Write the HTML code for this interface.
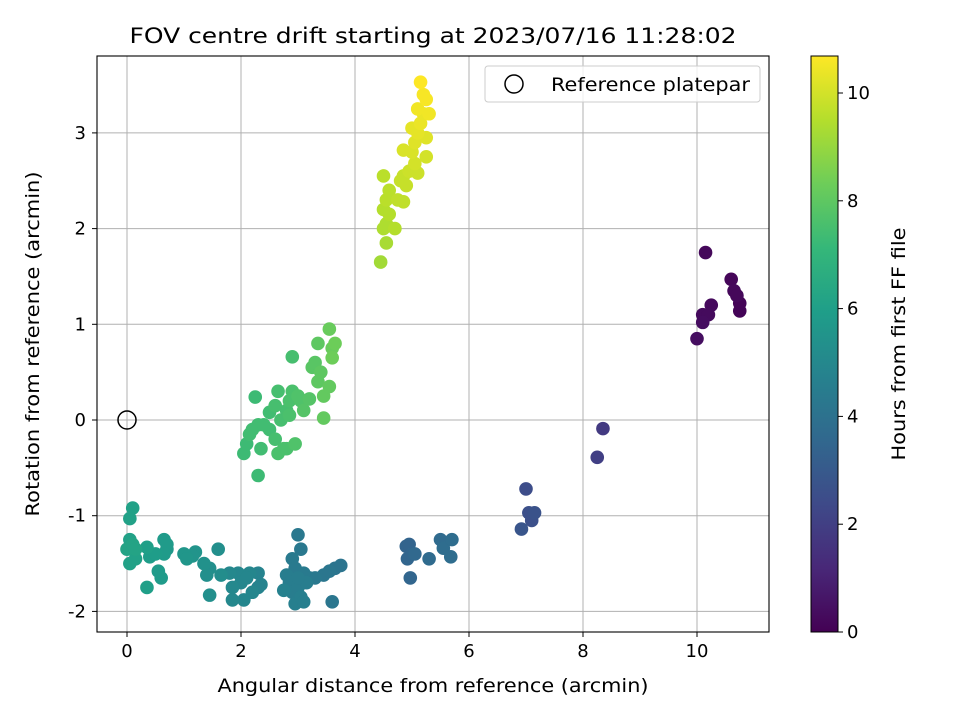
<!DOCTYPE html>
<html><head><meta charset="utf-8"><style>
html,body{margin:0;padding:0;background:#fff;}
svg{display:block;font-family:"DejaVu Sans","Liberation Sans",sans-serif;}
</style></head><body>
<svg id="chart" width="960" height="720" viewBox="0 0 960 720">
<rect width="960" height="720" fill="#fff"/>
<text x="433" y="43" font-size="21" text-anchor="middle" textLength="607" lengthAdjust="spacingAndGlyphs">FOV centre drift starting at 2023/07/16 11:28:02</text>
<g id="grid"></g>
<g id="points"></g>
<circle cx="127" cy="420" r="9" fill="none" stroke="#000" stroke-width="1.5"/>
<rect x="97" y="56" width="672" height="576" fill="none" stroke="#000" stroke-width="1.1"/>
<g id="ticks" font-size="18"></g>
<text x="433" y="692" font-size="19" text-anchor="middle" textLength="431" lengthAdjust="spacingAndGlyphs">Angular distance from reference (arcmin)</text>
<text transform="translate(39,344) rotate(-90)" font-size="19" text-anchor="middle" textLength="345" lengthAdjust="spacingAndGlyphs">Rotation from reference (arcmin)</text>
<g>
<rect x="485" y="66" width="275" height="36" rx="3" fill="#fff" fill-opacity="0.8" stroke="#ccc"/>
<circle cx="514" cy="84" r="9" fill="none" stroke="#000" stroke-width="1.5"/>
<text x="551" y="91" font-size="19" textLength="199" lengthAdjust="spacingAndGlyphs">Reference platepar</text>
</g>
<defs><linearGradient id="vir" x1="0" y1="1" x2="0" y2="0"></linearGradient></defs>
<rect id="cbar" x="811" y="56" width="27" height="576" fill="url(#vir)" stroke="#000" stroke-width="1"/>
<g id="cticks" font-size="18"></g>
<text transform="translate(905,344) rotate(-90)" font-size="19" text-anchor="middle" textLength="233" lengthAdjust="spacingAndGlyphs">Hours from first FF file</text>
</svg>
<script>
const xTicks=[0,2,4,6,8,10];
const yTicks=[-2,-1,0,1,2,3];
const cTicks=[0,2,4,6,8,10];
const xs=[10.0,10.1,10.1,10.15,10.2,10.25,10.6,10.65,10.7,10.75,10.75,8.35,8.25,7.0,7.05,7.1,7.15,6.92,
4.9,4.95,4.92,5.0,5.05,4.97,5.3,5.5,5.55,5.7,5.68,
2.9,2.95,3.0,3.05,2.8,2.85,2.9,2.95,3.0,3.05,3.1,3.15,3.1,3.2,3.3,3.45,3.55,3.65,3.75,3.6,2.75,3.0,
1.8,1.85,1.85,1.95,2.0,2.05,2.15,2.2,2.3,2.35,2.3,2.1,1.6,1.65,1.45,1.4,1.45,1.35,1.2,1.15,1.0,1.05,
0.1,0.05,0.05,0.0,0.1,0.15,0.05,0.15,0.35,0.4,0.35,0.5,0.55,0.6,0.65,0.7,0.65,0.7,
2.3,2.05,2.1,2.15,2.2,2.3,2.35,2.25,2.5,2.6,2.65,2.7,2.75,2.65,2.8,2.85,2.9,2.95,2.9,3.0,3.05,3.1,3.2,3.25,3.3,3.35,3.4,3.35,3.45,3.45,3.55,3.6,3.6,3.65,3.55,2.8,2.5,2.6,2.85,2.4,
4.45,4.55,4.5,4.55,4.7,4.5,4.6,4.55,4.6,4.75,4.85,4.5,4.9,4.8,4.85,5.1,4.95,5.05,5.25,5.0,4.85,5.05,5.25,5.1,5.0,5.15,5.2,5.3,5.1,5.25,5.2,5.15];
const ys=[0.85,1.1,1.02,1.75,1.1,1.2,1.47,1.35,1.3,1.22,1.14,-0.09,-0.39,-0.72,-0.97,-1.05,-0.97,-1.14,
-1.32,-1.3,-1.45,-1.4,-1.4,-1.65,-1.45,-1.25,-1.34,-1.25,-1.43,
-1.45,-1.55,-1.2,-1.35,-1.62,-1.7,-1.8,-1.92,-1.75,-1.85,-1.6,-1.7,-1.9,-1.65,-1.65,-1.62,-1.58,-1.55,-1.52,-1.9,-1.78,-1.65,
-1.6,-1.75,-1.88,-1.6,-1.7,-1.88,-1.6,-1.8,-1.6,-1.72,-1.75,-1.65,-1.35,-1.62,-1.55,-1.62,-1.83,-1.5,-1.38,-1.42,-1.4,-1.45,
-0.92,-1.03,-1.25,-1.35,-1.3,-1.35,-1.5,-1.45,-1.33,-1.43,-1.75,-1.4,-1.58,-1.65,-1.25,-1.3,-1.4,-1.35,
-0.58,-0.35,-0.25,-0.15,-0.1,-0.05,-0.3,0.24,0.08,0.15,0.3,0.0,-0.3,-0.35,0.1,0.2,0.3,-0.25,0.66,0.25,0.2,0.1,0.22,0.55,0.6,0.4,0.5,0.8,0.25,0.02,0.95,0.75,0.65,0.8,0.35,-0.3,-0.1,-0.2,0.05,-0.05,
1.65,1.85,2.0,2.05,2.0,2.2,2.15,2.3,2.4,2.3,2.28,2.55,2.45,2.5,2.55,2.58,2.6,2.68,2.75,2.8,2.82,2.9,2.95,3.0,3.05,3.1,3.2,3.2,3.25,3.35,3.4,3.53];
const hours=[0.4,0.3,0.35,0.2,0.3,0.25,0.15,0.2,0.2,0.1,0.1,1.8,2.0,2.5,2.6,2.6,2.7,2.8,
3.4,3.4,3.5,3.5,3.6,3.5,3.7,3.7,3.8,3.8,3.8,
4.4,4.4,4.3,4.3,4.5,4.5,4.5,4.6,4.5,4.6,4.4,4.5,4.6,4.3,4.3,4.2,4.2,4.1,4.1,4.2,4.7,4.5,
5.0,5.0,5.0,4.9,4.9,4.9,4.9,4.9,4.8,4.8,4.8,4.9,5.3,5.2,5.3,5.3,5.3,5.4,5.5,5.5,5.6,5.6,
6.1,6.1,6.1,6.2,6.2,6.2,6.1,6.1,6.0,5.9,6.0,5.9,5.8,5.8,5.8,5.8,5.8,5.7,
7.3,7.3,7.3,7.4,7.4,7.4,7.4,7.3,7.4,7.5,7.5,7.5,7.6,7.6,7.5,7.6,7.6,7.7,7.5,7.7,7.7,7.8,7.8,7.9,7.9,8.0,8.0,8.0,8.1,8.1,8.2,8.2,8.3,8.3,8.1,7.6,7.4,7.5,7.6,7.4,
9.2,9.3,9.4,9.4,9.5,9.5,9.5,9.6,9.6,9.7,9.7,9.6,9.8,9.8,9.8,9.9,9.9,10.0,10.0,10.1,10.1,10.2,10.2,10.3,10.3,10.4,10.4,10.5,10.5,10.6,10.6,10.7];
const NS="http://www.w3.org/2000/svg";
const X=v=>127+v*57, Y=v=>420-v*95.7, C=v=>632-v*53.9;
const VIR=[[68,1,84],[72,40,120],[62,74,137],[49,104,142],[38,130,142],[31,158,137],[53,183,121],[109,205,89],[180,222,44],[253,231,37]];
function vir(t){t=Math.max(0,Math.min(1,t))*9;const i=Math.min(8,Math.floor(t)),f=t-i,a=VIR[i],b=VIR[i+1];
return 'rgb('+a.map((c,k)=>Math.round(c+(b[k]-c)*f)).join(',')+')';}
const HMAX=10.69;
function mk(tag,attrs,parent){const e=document.createElementNS(NS,tag);for(const k in attrs)e.setAttribute(k,attrs[k]);parent.appendChild(e);return e;}
const grid=document.getElementById('grid'),ticks=document.getElementById('ticks');
xTicks.forEach(v=>{
 const l=mk('line',{x1:X(v),x2:X(v),y1:56,y2:632,stroke:'#b0b0b0','stroke-width':1},grid);
 
 
 mk('line',{x1:X(v),x2:X(v),y1:632,y2:637,stroke:'#000'},ticks);
 const t=mk('text',{x:X(v),y:657,'text-anchor':'middle'},ticks);t.textContent=v;
 
 
});
yTicks.forEach(v=>{
 const l=mk('line',{x1:97,x2:769,y1:Y(v),y2:Y(v),stroke:'#b0b0b0','stroke-width':1},grid);
 
 
 mk('line',{x1:92,x2:97,y1:Y(v),y2:Y(v),stroke:'#000'},ticks);
 const t=mk('text',{x:86,y:Y(v)+6,'text-anchor':'end'},ticks);t.textContent=v;
 
 
});
const pts=document.getElementById('points');
const order=hours.map((h,i)=>i).sort((a,b)=>hours[a]-hours[b]);
order.forEach(i=>{
 const c=mk('circle',{cx:X(xs[i]),cy:Y(ys[i]),r:6.8,fill:vir(hours[i]/HMAX)},pts);
 
 
});
const g=document.getElementById('vir');
VIR.forEach((c,i)=>mk('stop',{offset:(i/9),'stop-color':'rgb('+c.join(',')+')'},g));
const ct=document.getElementById('cticks');
cTicks.forEach(v=>{
 mk('line',{x1:838,x2:843,y1:C(v),y2:C(v),stroke:'#000'},ct);
 const t=mk('text',{x:847,y:C(v)+6},ct);t.textContent=v;
 
 
});
</script>
</body></html>
